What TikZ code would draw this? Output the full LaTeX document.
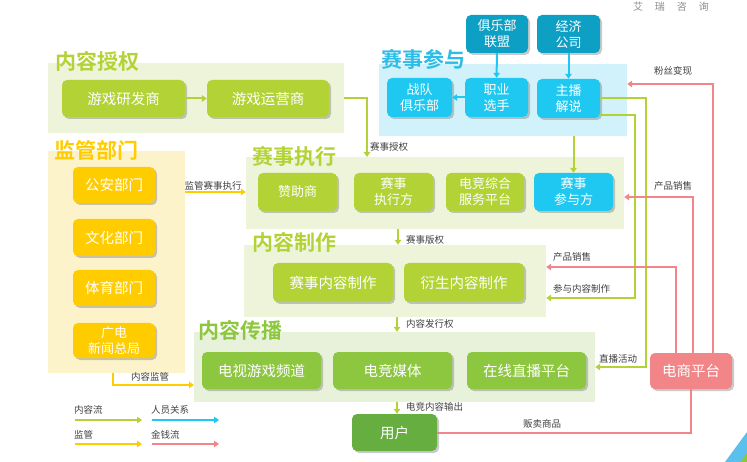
\documentclass[tikz,border=0pt]{standalone}
\usepackage{fontspec}
\setmainfont{Noto Sans CJK SC}[BoldFont={Noto Sans CJK SC Bold}]
\usetikzlibrary{arrows.meta,shadows}

\definecolor{lime}{HTML}{B2D235}
\definecolor{grass}{HTML}{8DC63F}
\definecolor{deepgrass}{HTML}{66AE3F}
\definecolor{limebg}{HTML}{EEF4D9}
\definecolor{grassbg}{HTML}{E8F2DA}
\definecolor{sky}{HTML}{1FC8F1}
\definecolor{teal}{HTML}{0E9FC4}
\definecolor{skybg}{HTML}{D2F2FB}
\definecolor{skytitle}{HTML}{2BBDE8}
\definecolor{gold}{HTML}{FFCC00}
\definecolor{goldbg}{HTML}{FDF3CB}
\definecolor{rose}{HTML}{F28587}
\definecolor{ink}{HTML}{404040}
\definecolor{corner}{HTML}{5BC0EB}

\tikzset{
	panel/.style={rectangle, inner sep=0pt},
	ptitle/.style={anchor=west, inner sep=0pt, font=\fontsize{21}{23}\selectfont\bfseries},
	box/.style={rectangle, rounded corners=5pt, inner sep=0pt, text=white, align=center,
		font=\fontsize{14.5}{16}\selectfont,
		drop shadow={shadow xshift=2pt, shadow yshift=-2pt, opacity=0.35, fill=black!60}},
	box2/.style={box, font=\fontsize{13}{16}\selectfont},
	lbl/.style={inner sep=0pt, text=ink, font=\fontsize{9.5}{11}\selectfont},
	con/.style={line width=2pt, -{Triangle[length=5pt,width=6.5pt]}},
	flow/.style={con, draw=lime},
	staff/.style={con, draw=sky},
	reg/.style={con, draw=gold},
	cash/.style={con, draw=rose},
}

\begin{document}
\begin{tikzpicture}[x=1pt, y=-1pt]
	\useasboundingbox (0,0) rectangle (747,462);

	% panels
	\node[panel, fill=limebg, minimum width=296pt, minimum height=70pt] (pAuth) at (196,98) {};
	\node[panel, fill=goldbg, minimum width=137pt, minimum height=222pt] (pReg) at (116.5,262) {};
	\node[panel, fill=skybg, minimum width=248pt, minimum height=72pt] (pPart) at (503,100) {};
	\node[panel, fill=limebg, minimum width=378pt, minimum height=72pt] (pExec) at (435,193) {};
	\node[panel, fill=limebg, minimum width=302pt, minimum height=72pt] (pMake) at (395,281) {};
	\node[panel, fill=grassbg, minimum width=401pt, minimum height=70pt] (pSpread) at (394.5,367) {};

	\node[ptitle, text=lime] (tAuth) at (55,61) {内容授权};
	\node[ptitle, text=gold] (tReg) at (54,150) {监管部门};
	\node[ptitle, text=skytitle] (tPart) at (381,59) {赛事参与};
	\node[ptitle, text=lime] (tExec) at (252,156) {赛事执行};
	\node[ptitle, text=lime] (tMake) at (252,242) {内容制作};
	\node[ptitle, text=grass] (tSpread) at (198,330) {内容传播};

	% boxes
	\node[box, fill=lime, minimum width=123pt, minimum height=37pt] (dev) at (123.5,98.5) {游戏研发商};
	\node[box, fill=lime, minimum width=122pt, minimum height=37pt] (ops) at (268,98.5) {游戏运营商};

	\node[box2, fill=teal, minimum width=62pt, minimum height=38pt] (league) at (497,34) {俱乐部\\联盟};
	\node[box2, fill=teal, minimum width=63pt, minimum height=38pt] (agency) at (568.5,34) {经济\\公司};
	\node[box2, fill=sky, minimum width=65pt, minimum height=39pt] (team) at (419.5,97.5) {战队\\俱乐部};
	\node[box2, fill=sky, minimum width=63pt, minimum height=39pt] (pro) at (496.5,97.5) {职业\\选手};
	\node[box2, fill=sky, minimum width=63pt, minimum height=39pt] (host) at (568.5,98.5) {主播\\解说};

	\node[box, fill=gold, minimum width=82pt, minimum height=36pt] (police) at (114,185) {公安部门};
	\node[box, fill=gold, minimum width=82pt, minimum height=37pt] (culture) at (114,237.5) {文化部门};
	\node[box, fill=gold, minimum width=82pt, minimum height=36pt] (sport) at (114,288) {体育部门};
	\node[box2, fill=gold, minimum width=82pt, minimum height=35pt] (sarft) at (114,340.5) {广电\\新闻总局};

	\node[box2, fill=lime, minimum width=79pt, minimum height=38pt] (sponsor) at (297.5,192) {赞助商};
	\node[box2, fill=lime, minimum width=79pt, minimum height=38pt] (organizer) at (393.5,192) {赛事\\执行方};
	\node[box2, fill=lime, minimum width=78pt, minimum height=38pt] (service) at (485,192) {电竞综合\\服务平台};
	\node[box2, fill=sky, minimum width=79pt, minimum height=38pt] (entrant) at (573.5,192) {赛事\\参与方};

	\node[box, fill=lime, minimum width=120pt, minimum height=39pt] (eventprod) at (333,282.5) {赛事内容制作};
	\node[box, fill=lime, minimum width=120pt, minimum height=39pt] (derivprod) at (464,282.5) {衍生内容制作};

	\node[box, fill=grass, minimum width=119pt, minimum height=37pt] (tvch) at (261.5,370.5) {电视游戏频道};
	\node[box, fill=grass, minimum width=119pt, minimum height=37pt] (media) at (392.5,370.5) {电竞媒体};
	\node[box, fill=grass, minimum width=119pt, minimum height=37pt] (live) at (526.5,370.5) {在线直播平台};

	\node[box, fill=rose, minimum width=82pt, minimum height=36pt] (shop) at (691,371) {电商平台};
	\node[box, fill=deepgrass, minimum width=85pt, minimum height=37pt] (user) at (394.5,432.5) {用户};

	% free ends
	\coordinate (authdrop) at (367,157);
	\coordinate (spreadin) at (194,385);
	\coordinate (mkturn) at (635,298);
	\coordinate (liveturn) at (646,367);
	\coordinate (fanturn) at (713,84);
	\coordinate (saleturn) at (693,197);
	\coordinate (sale2turn) at (676,267);

	% content flow
	\draw[flow] (dev) -- (ops);
	\draw[flow] (pAuth.east) -| (authdrop);
	\draw[flow] (entrant.north |- pPart.south) -- (entrant.north);
	\draw[flow] (pExec.south -| 398,0) -- (pMake.north -| 398,0);
	\draw[flow] (pMake.south -| 397,0) -- (pSpread.north -| 397,0);
	\draw[flow] (pSpread.south -| 397,0) -- (user.north -| 397,0);
	\draw[flow] ([yshift=-16.5pt]host.east) -| (mkturn) -- (mkturn -| pMake.east);
	\draw[flow] (host.east) -| (liveturn) -- (liveturn -| pSpread.east);

	% people
	\draw[staff] (league) -- (pro);
	\draw[staff] (agency) -- (host);
	\draw[staff] (pro) -- (team);

	% regulation
	\draw[reg] (pReg.east |- sponsor) -- (pExec.west |- sponsor);
	\draw[reg] (pReg.south -| 113,0) |- (spreadin);

	% money
	\draw[cash] (shop.north -| fanturn) |- (pPart.east |- fanturn);
	\draw[cash] (shop.north -| saleturn) |- (pExec.east |- saleturn);
	\draw[cash] (shop.north -| sale2turn) |- (pMake.east |- sale2turn);
	\draw[line width=2pt, rose] (shop.south) |- (user.east);

	% labels
	\node[lbl, anchor=west] (lAuth) at (370,147) {赛事授权};
	\node[lbl] (lReg) at (213,186) {监管赛事执行};
	\node[lbl, anchor=west] (lRight) at (406,240) {赛事版权};
	\node[lbl, anchor=west] (lIssue) at (406,324) {内容发行权};
	\node[lbl, anchor=west] (lOut) at (406,407) {电竞内容输出};
	\node[lbl] (lSup) at (150,377) {内容监管};
	\node[lbl] (lFan) at (673,71) {粉丝变现};
	\node[lbl] (lSale) at (673,186) {产品销售};
	\node[lbl, anchor=west] (lSale2) at (553,257) {产品销售};
	\node[lbl, anchor=west] (lJoin) at (553,289) {参与内容制作};
	\node[lbl] (lLive) at (618,359) {直播活动};
	\node[lbl] (lSell) at (542,424) {贩卖商品};

	% legend
	\node[lbl, anchor=west] (kFlow) at (74,410) {内容流};
	\node[lbl, anchor=west] (kStaff) at (151,410) {人员关系};
	\node[lbl, anchor=west] (kReg) at (74,435) {监管};
	\node[lbl, anchor=west] (kCash) at (151,435) {金钱流};
	\coordinate (kf1) at (75,420); \coordinate (kf2) at (142,420);
	\coordinate (ks1) at (152,420); \coordinate (ks2) at (219,420);
	\coordinate (kr1) at (75,444); \coordinate (kr2) at (142,444);
	\coordinate (kc1) at (152,444); \coordinate (kc2) at (219,444);
	\draw[flow] (kf1) -- (kf2);
	\draw[staff] (ks1) -- (ks2);
	\draw[reg] (kr1) -- (kr2);
	\draw[cash] (kc1) -- (kc2);

	% watermark and corner
	\node[inner sep=0pt, text=black!45, font=\fontsize{10}{12}\selectfont] (mark) at (671,6.5) {艾\hspace{1.2em}瑞\hspace{1.2em}咨\hspace{1.2em}询};
	\fill[corner] (725,462) -- (747,432) -- (747,462) -- cycle;
	\fill[grass] (740,462) -- (747,453) -- (747,462) -- cycle;
\end{tikzpicture}
\end{document}
